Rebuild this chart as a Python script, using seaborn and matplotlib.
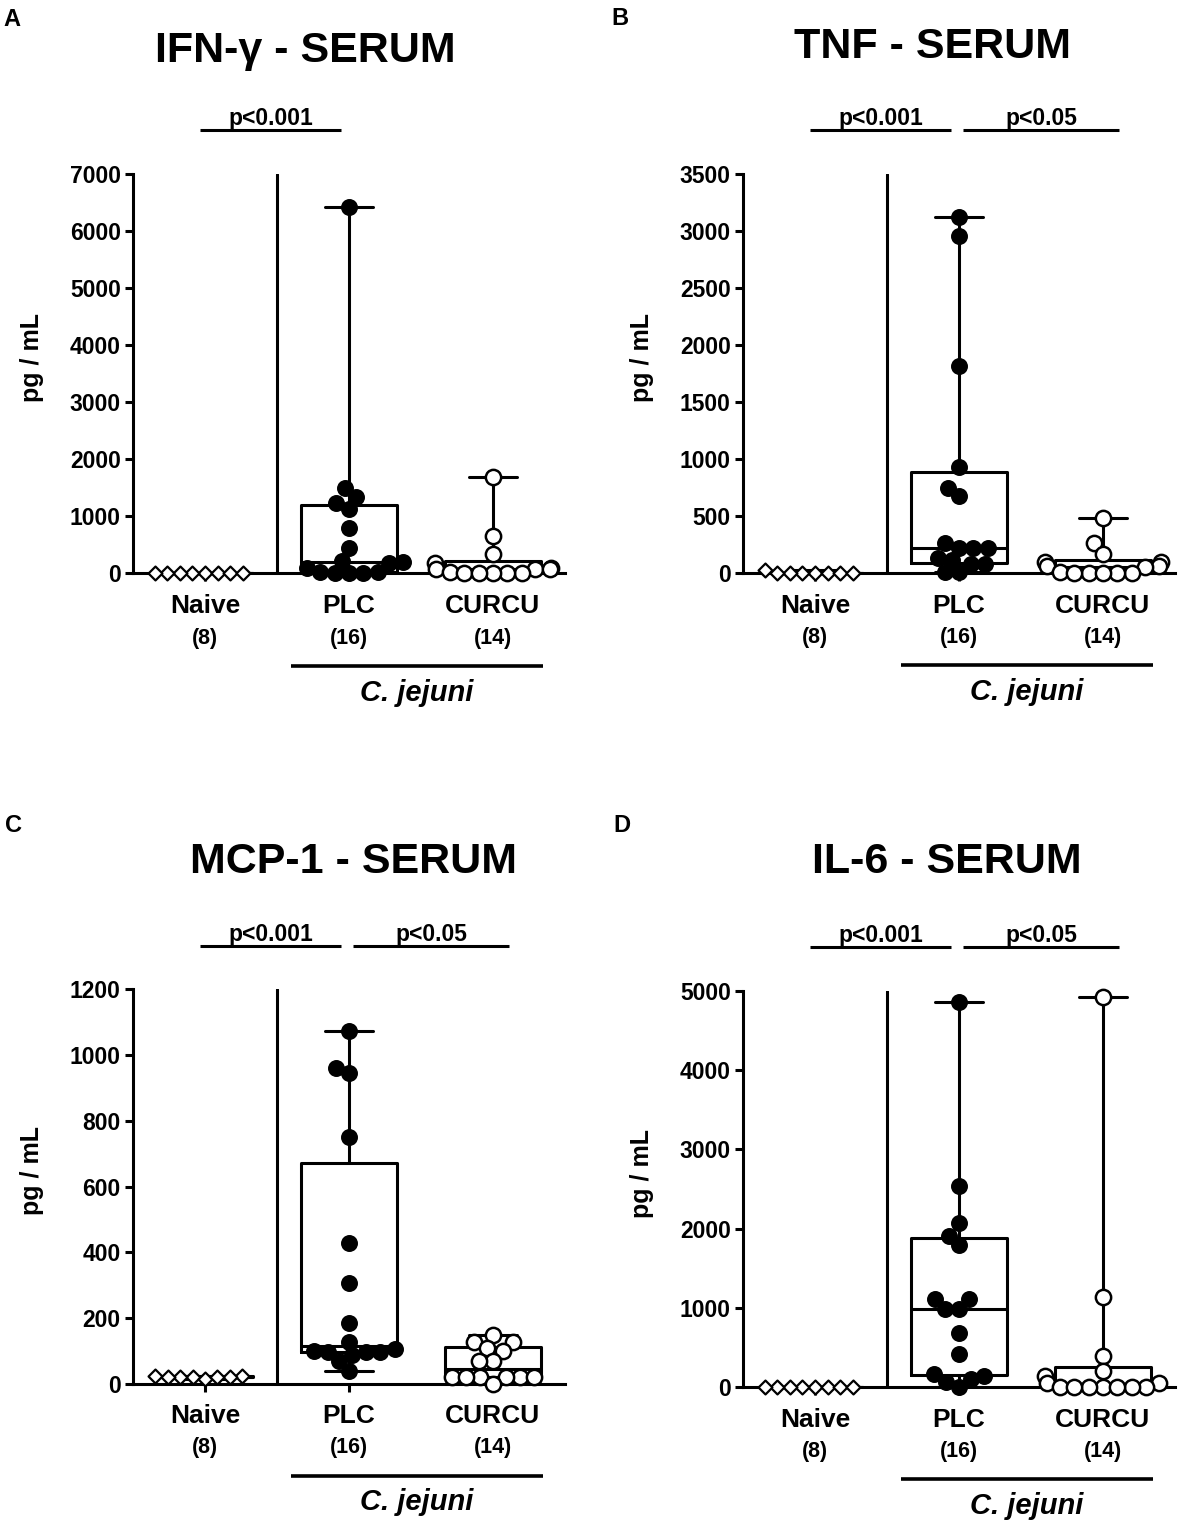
import numpy as np
import pandas as pd
import matplotlib
matplotlib.use("Agg")
import matplotlib.pyplot as plt
import seaborn as sns

# groups and animal numbers
groups = ["Naive", "PLC", "CURCU"]
group_n = ["(8)", "(16)", "(14)"]

# IFN-gamma (pg/mL)
ifng_naive = [0, 0, 0, 0, 0, 0, 0, 0]
ifng_plc = [6430, 1490, 1330, 1230, 1120, 800, 450, 210, 190, 180, 90, 30, 15, 5, 0, 0]
ifng_curcu = [1680, 650, 330, 180, 90, 70, 70, 70, 20, 10, 5, 0, 0, 0]

# TNF (pg/mL)
tnf_naive = [0, 25, 0, 0, 0, 0, 0, 0]
tnf_plc = [3125, 2955, 1817, 930, 746, 673, 257, 219, 219, 219, 132, 111, 73, 73, 10, 5]
tnf_curcu = [477, 257, 161, 97, 97, 58, 55, 47, 5, 0, 0, 0, 0, 0]

# MCP-1 (pg/mL)
mcp1_naive = [20, 25, 22, 24, 15, 22, 20, 22]
mcp1_plc = [1073, 960, 945, 752, 430, 306, 186, 129, 105, 100, 98, 98, 96, 88, 71, 41]
mcp1_curcu = [149, 129, 129, 108, 101, 71, 71, 20, 20, 20, 20, 20, 20, 0]

# IL-6 (pg/mL)
il6_naive = [0, 0, 0, 0, 0, 0, 0, 0]
il6_plc = [4861, 2542, 2067, 1912, 1794, 1109, 1109, 983, 983, 681, 416, 168, 143, 101, 63, 0]
il6_curcu = [4924, 1134, 395, 210, 143, 59, 59, 0, 0, 0, 0, 0, 0, 0]

W, H = 1181, 1528
LW = 2.2

sns.set_theme(style="ticks")
plt.rcParams["font.family"] = ["Liberation Sans", "DejaVu Sans"]
plt.rcParams["font.weight"] = "bold"
for key in ("text.color", "axes.labelcolor", "axes.edgecolor", "xtick.color", "ytick.color"):
    plt.rcParams[key] = "black"

panels = [
    # letter, title, data, ymax, step, p texts, axes px (left, y0, top), title px, letter px
    ("A", "IFN-γ - SERUM", (ifng_naive, ifng_plc, ifng_curcu), 7000, 1000, ["p<0.001"],
     (133, 573.3, 174), (305, 62), (3, 26)),
    ("B", "TNF - SERUM", (tnf_naive, tnf_plc, tnf_curcu), 3500, 500, ["p<0.001", "p<0.05"],
     (743, 572.7, 174), (933, 58), (611, 25)),
    ("C", "MCP-1 - SERUM", (mcp1_naive, mcp1_plc, mcp1_curcu), 1200, 200, ["p<0.001", "p<0.05"],
     (133, 1384, 989.3), (353, 873), (5, 832)),
    ("D", "IL-6 - SERUM", (il6_naive, il6_plc, il6_curcu), 5000, 1000, ["p<0.001", "p<0.05"],
     (743, 1387.3, 990.7), (947, 873), (613, 832)),
]

# marker styles per group: marker, fill, lw, size used for packing, size drawn
point_styles = {
    "Naive": ("D4", "white", 1.6, 7.0, 10.0),
    "PLC": ("o", "black", 1.0, 8.8, 11.2),
    "CURCU": ("o", "white", 1.8, 8.0, 11.0),
}


def box_stats(vals):
    # GraphPad style quartiles, whiskers min to max
    v = np.asarray(vals, dtype=float)
    q1, med, q3 = np.percentile(v, [25, 50, 75], method="weibull")
    return dict(med=med, q1=q1, q3=q3, whislo=v.min(), whishi=v.max(), fliers=[])


fig = plt.figure(figsize=(W / 100, H / 100), dpi=100)
swarms = []

for letter, title, data, ymax, step, ptexts, (left, y0, top), (tx, ty), (lx, ly) in panels:
    ax = fig.add_axes([left / W, 1 - y0 / H, 432 / W, (y0 - top) / H])

    df = pd.DataFrame({
        "group": np.repeat(groups, [len(d) for d in data]),
        "value": np.concatenate([np.asarray(d, dtype=float) for d in data]),
    })

    for g in groups:
        marker, fill, lw, pack_size, shown_size = point_styles[g]
        n_before = len(ax.collections)
        sns.swarmplot(data=df[df["group"] == g], x="group", y="value", order=groups,
                      marker=(4, 0, 0) if marker == "D4" else marker, size=pack_size,
                      color=fill, edgecolor="black", linewidth=lw, ax=ax, zorder=4)
        for c in ax.collections[n_before:]:
            c.set_clip_on(False)
            swarms.append((c, shown_size))

    line_kw = dict(color="black", linewidth=LW)
    ax.bxp([box_stats(d) for d in data], positions=[0, 1, 2], widths=0.66, capwidths=0.33,
           showfliers=False, manage_ticks=False, boxprops=line_kw, whiskerprops=line_kw,
           capprops=line_kw, medianprops=line_kw, zorder=2)

    ax.axvline(0.5, color="black", linewidth=LW, zorder=2)

    ax.set_xlim(-0.5, 2.5)
    ax.set_ylim(0, ymax)
    ax.set_yticks(np.arange(0, ymax + 1, step))
    ax.set_xticks([0, 1, 2])
    ax.set_xticklabels([])
    ax.set_xlabel("")
    ax.set_ylabel("pg / mL", fontsize=18, fontweight="bold")
    ax.yaxis.set_label_coords(-0.205, 0.54)
    ax.tick_params(axis="both", direction="out", length=5.8, width=LW, labelsize=16.5, pad=3)
    for lab in ax.get_yticklabels():
        lab.set_fontweight("bold")
    sns.despine(ax=ax)
    for s in ("left", "bottom"):
        ax.spines[s].set_linewidth(LW)

    tr = ax.get_xaxis_transform()
    for i, (g, n) in enumerate(zip(groups, group_n)):
        ax.text(i, -0.100, g, transform=tr, ha="center", va="baseline", fontsize=19, fontweight="bold")
        ax.text(i, -0.176, n, transform=tr, ha="center", va="baseline", fontsize=15.5, fontweight="bold")

    # C. jejuni bracket
    ax.plot([0.60, 2.35], [-0.232, -0.232], transform=tr, clip_on=False, color="black",
            linewidth=2.6, solid_capstyle="butt")
    ax.text(1.47, -0.32, "C. jejuni", transform=tr, ha="center", va="baseline",
            fontsize=21, fontweight="bold", fontstyle="italic")

    # significance bars
    spans = [(-0.035, 0.945), (1.03, 2.11)]
    for (x0, x1), ptxt in zip(spans, ptexts):
        ax.plot([x0, x1], [1.11, 1.11], transform=tr, clip_on=False, color="black",
                linewidth=LW, solid_capstyle="butt")
        ax.text((x0 + x1) / 2, 1.123, ptxt, transform=tr, ha="center", va="baseline",
                fontsize=16.5, fontweight="bold")

    fig.text(tx / W, 1 - ty / H, title, ha="center", va="baseline", fontsize=31, fontweight="bold")
    fig.text(lx / W, 1 - ly / H, letter, ha="left", va="baseline", fontsize=17, fontweight="bold")

# first draw lets seaborn pack the swarms tightly, then the markers are
# drawn a bit larger so that they overlap like in the GraphPad figure
fig.canvas.draw()
for c, shown_size in swarms:
    c.__dict__.pop("draw", None)
    c.set_sizes([shown_size ** 2])

fig.savefig("out.png", dpi=100)
